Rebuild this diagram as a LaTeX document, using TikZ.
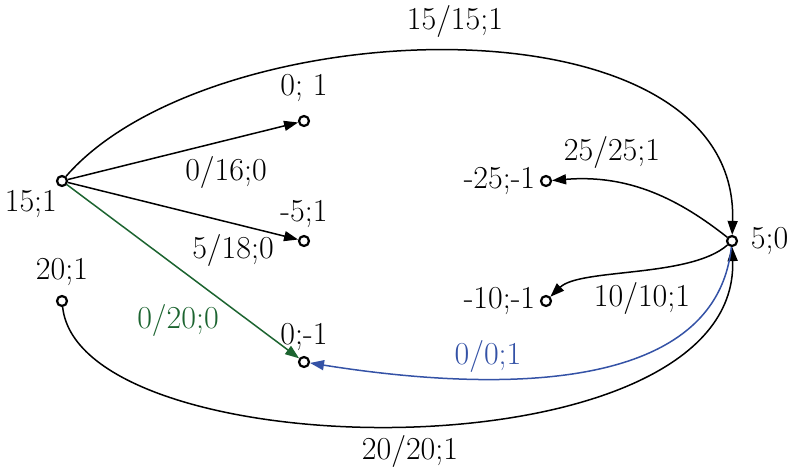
\documentclass[tikz,border=0pt]{standalone}
\usetikzlibrary{arrows.meta}
\definecolor{flowgreen}{RGB}{28,100,48}
\definecolor{flowblue}{RGB}{52,82,166}

\begin{document}
\begin{tikzpicture}[x=0.5pt,y=-0.5pt,line width=0.75pt,
  every label/.style={font=\fontsize{16}{19}\selectfont,inner sep=2pt},
  vtx/.style={circle,draw,line width=1.1pt,fill=white,inner sep=0pt,minimum size=5pt},
  arc/.style={-{Triangle[length=7pt,width=5pt]}},
  lbl/.style={font=\fontsize{16}{19}\selectfont,inner sep=1pt}]
  \useasboundingbox (0,0) rectangle (789,471);
  \node[vtx,label={[xshift=2pt]below left:15;1}] (s) at (62,181) {};
  \node[vtx,label={[label distance=4pt]above:0; 1}] (p) at (304,121) {};
  \node[vtx,label={[label distance=1pt]above:-5;1}] (q) at (304,241) {};
  \node[vtx,label={[label distance=2pt]above:20;1}] (r) at (62,301) {};
  \node[vtx,label={above:0;-1}] (u) at (304,362) {};
  \node[vtx,label={left:-25;-1}] (v) at (546,181) {};
  \node[vtx,label={left:-10;-1}] (w) at (546,301) {};
  \node[vtx,label={[label distance=4pt]right:5;0}] (t) at (732,241) {};
  % straight arcs out of the source
  \draw[arc] (s) -- (p);
  \draw[arc] (s) -- (q);
  \draw[arc,flowgreen] (s) -- (u);
  \node[lbl] at (226,172) {0/16;0};
  \node[lbl] at (233,250) {5/18;0};
  \node[lbl,text=flowgreen] at (178,320) {0/20;0};
  % long arcs
  \draw[arc] (s) .. controls (210,10) and (740,-10) .. (t);
  \node[lbl] at (455,22) {15/15;1};
  \draw[arc] (r) .. controls (80,470) and (740,480) .. (t);
  \node[lbl] at (410,451) {20/20;1};
  \draw[arc,flowblue] (t) .. controls (715,400) and (480,390) .. (u);
  \node[lbl,text=flowblue] at (488,356) {0/0;1};
  % arcs out of the sink
  \draw[arc] (t) .. controls (680,200) and (630,174) .. (v);
  \node[lbl] at (612,153) {25/25;1};
  \draw[arc] (t) .. controls (690,278) and (580,268) .. (w);
  \node[lbl] at (642,298) {10/10;1};
\end{tikzpicture}
\end{document}
